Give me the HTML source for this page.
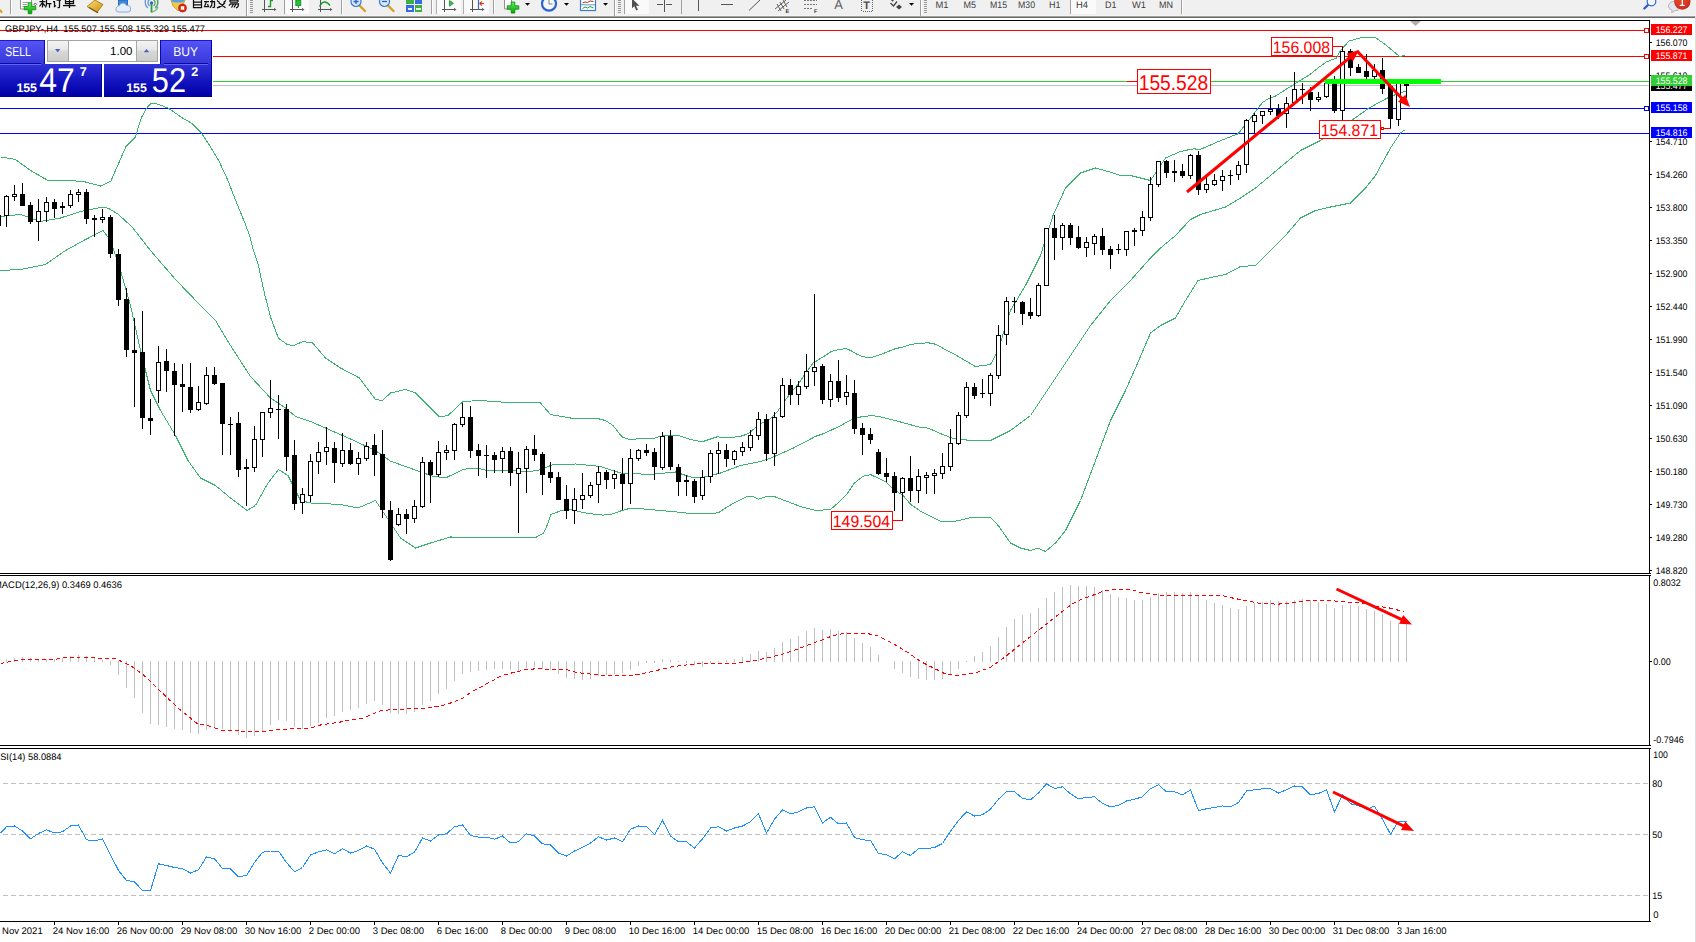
<!DOCTYPE html>
<html><head><meta charset="utf-8"><title>GBPJPY H4</title>
<style>
html,body{margin:0;padding:0;background:#fff;overflow:hidden}
body{width:1696px;height:942px;font-family:"Liberation Sans",sans-serif}
svg{position:absolute;left:0;top:0;display:block}
svg text{font-family:"Liberation Sans",sans-serif}
</style></head><body>
<svg width="1696" height="942" viewBox="0 0 1696 942" shape-rendering="crispEdges" text-rendering="geometricPrecision">
<rect x="0" y="0" width="1696" height="942" fill="#fff"/>
<rect x="0" y="30" width="1649" height="1" fill="#f00"/>
<rect x="0" y="56" width="1649" height="1" fill="#f00"/>
<rect x="0" y="81" width="1649" height="1" fill="#32cd32"/>
<rect x="0" y="85" width="1649" height="1" fill="#c0c0c0"/>
<rect x="0" y="108" width="1649" height="1" fill="#00f"/>
<rect x="0" y="133" width="1649" height="1" fill="#00f"/>
<text x="5" y="32" font-size="9.5" fill="#000" textLength="200" lengthAdjust="spacingAndGlyphs">GBPJPY-,H4&#160;&#160;155.507 155.508 155.329 155.477</text>
<polyline points="0.5,157.0 15.5,159.5 30.5,170.5 48.0,180.5 70.5,180.5 85.5,182.0 100.5,186.0 110.7,181.4 126.0,146.5 135.3,137.2 141.3,117.7 146.5,108.5 149.8,104.5 151.5,103.2 155.5,103.5 160.0,104.9 168.5,108.3 182.0,117.7 192.2,123.6 200.7,132.1 209.2,144.9 219.4,161.9 227.9,180.5 236.5,202.6 244.9,223.0 250.0,236.6 253.4,250.2 258.4,265.5 264.7,294.5 270.9,318.2 278.4,338.2 287.2,344.5 293.5,345.7 302.3,341.7 312.3,342.5 325.5,358.0 340.5,368.0 359.5,378.0 375.5,399.5 382.5,400.5 390.5,393.0 405.5,389.5 415.5,393.0 425.5,403.0 439.5,417.0 448.0,415.5 463.0,401.5 480.5,400.5 500.5,402.0 540.5,403.0 550.5,414.5 570.5,418.0 595.5,418.0 605.5,420.5 613.1,425.5 621.9,436.8 630.7,439.9 642.0,438.0 653.2,438.7 660.7,436.2 669.5,435.5 679.5,435.8 692.1,439.9 702.1,441.8 717.1,436.8 727.2,438.0 741.0,436.2 748.0,433.8 755.5,427.6 763.1,422.5 770.5,418.8 776.8,412.5 783.1,403.1 790.6,393.1 798.1,384.3 805.7,373.1 813.2,363.0 823.2,356.8 830.7,351.8 837.0,349.9 845.8,348.6 850.8,350.5 855.8,353.7 862.1,356.5 869.5,358.0 875.8,356.2 884.6,353.0 894.6,349.0 903.4,346.8 910.9,344.3 921.0,343.3 928.5,342.8 936.0,344.3 943.5,348.6 952.3,353.0 975.5,366.5 990.5,364.5 998.0,350.5 1010.5,310.5 1025.5,285.5 1040.5,255.5 1053.0,215.5 1065.5,188.0 1080.5,173.0 1095.5,168.0 1108.0,171.5 1120.5,175.5 1130.5,175.5 1150.5,180.5 1165.5,158.0 1180.5,151.5 1187.5,150.0 1194.5,148.8 1199.5,149.8 1218.5,141.5 1237.5,134.0 1239.5,132.0 1244.5,125.5 1251.5,117.0 1258.5,107.5 1262.5,102.5 1268.5,98.5 1276.0,95.8 1283.5,91.0 1293.0,85.0 1300.0,80.5 1309.5,74.8 1319.0,67.2 1326.5,61.9 1336.5,58.0 1340.5,50.5 1349.0,41.1 1361.5,37.5 1375.5,37.5 1386.5,45.5 1399.0,56.1 1405.5,55.9" fill="none" stroke="#3cb371" stroke-width="1"/>
<polyline points="0.5,216.5 20.5,214.5 40.5,221.5 60.5,218.0 80.5,211.5 103.0,207.0 108.5,208.3 118.2,214.3 132.0,226.9 150.5,250.5 175.5,279.5 200.5,305.5 215.5,320.5 230.5,345.5 250.5,376.5 270.5,398.0 285.5,408.0 295.5,416.5 310.5,421.5 325.5,428.0 350.5,439.0 375.5,450.5 390.5,461.2 403.1,465.6 420.5,471.9 433.2,476.3 445.7,477.9 462.0,470.0 467.0,468.7 479.5,468.7 485.8,470.2 514.5,470.2 520.9,471.3 533.5,471.0 540.9,469.7 545.9,467.5 553.5,464.4 576.0,464.0 582.5,464.6 600.5,466.5 620.5,473.0 650.5,474.5 675.5,472.0 690.5,477.0 700.5,478.0 720.5,473.0 740.5,465.5 760.5,461.5 770.5,458.2 793.1,448.2 815.7,436.3 823.2,433.8 838.2,426.9 850.8,420.0 860.8,416.9 870.8,415.7 878.3,416.3 890.9,419.4 918.5,426.9 928.5,428.2 941.0,433.8 952.3,438.2 970.5,440.5 990.5,440.5 1010.5,430.5 1030.5,415.5 1050.5,385.5 1070.5,355.5 1090.5,325.5 1110.5,300.5 1130.5,280.5 1150.5,258.0 1160.5,248.0 1175.5,235.5 1190.5,219.5 1200.5,214.5 1225.5,207.0 1240.5,198.0 1255.5,188.0 1270.5,175.5 1285.5,163.0 1300.5,150.5 1320.5,140.5 1340.5,128.0 1351.5,120.5 1369.0,108.0 1386.5,98.5 1399.0,93.0 1406.5,91.1" fill="none" stroke="#3cb371" stroke-width="1"/>
<polyline points="0.5,270.5 20.5,269.5 45.5,264.5 65.5,250.5 85.5,239.5 103.0,230.5 110.5,240.5 120.5,270.5 130.5,305.5 140.5,350.5 150.5,390.5 160.5,410.5 175.5,435.5 188.0,460.5 200.5,478.0 215.5,485.5 230.5,498.0 247.0,510.5 255.5,505.5 268.0,483.0 278.5,469.5 288.0,475.5 300.5,500.5 310.5,503.0 340.5,504.5 358.0,508.0 375.5,500.5 385.5,515.5 400.5,538.0 415.5,548.0 430.5,543.0 450.5,537.0 500.5,537.5 534.5,538.0 543.5,533.3 547.5,524.5 551.0,514.5 561.0,510.7 571.0,509.5 580.5,511.9 590.5,513.8 603.1,515.1 610.5,514.5 621.9,510.5 628.2,508.8 642.0,508.8 660.7,510.5 675.8,511.9 693.3,513.8 710.9,513.8 718.5,512.6 727.2,506.9 735.9,501.9 746.0,496.9 753.5,496.9 758.5,499.2 766.0,496.7 775.5,497.0 800.5,506.5 815.5,510.5 830.5,509.5 840.5,500.7 846.8,494.4 854.3,483.1 863.1,476.2 870.6,474.6 876.8,477.5 885.6,481.9 893.1,488.8 903.2,495.7 910.7,504.4 920.7,511.3 930.7,516.3 942.0,522.0 953.3,521.7 965.8,518.8 973.3,517.0 985.9,517.0 990.9,518.0 998.4,525.7 1007.2,538.2 1010.5,543.0 1020.5,548.0 1030.5,550.5 1038.0,548.0 1045.5,551.5 1055.5,543.0 1065.5,530.5 1080.5,500.5 1095.5,460.5 1110.5,420.5 1125.5,390.5 1135.5,368.0 1150.5,333.0 1160.5,325.5 1175.5,318.0 1185.5,300.5 1198.0,280.5 1215.5,276.5 1225.5,274.5 1240.5,266.5 1255.5,265.5 1270.5,250.5 1285.5,235.5 1300.5,218.0 1315.5,210.5 1330.5,207.0 1350.5,203.0 1365.5,188.0 1375.5,175.5 1390.5,148.0 1400.5,133.0 1405.5,129.5" fill="none" stroke="#3cb371" stroke-width="1"/>
<rect x="-2" y="215" width="1" height="12" fill="#000"/>
<rect x="-4" y="215" width="5" height="11" fill="#000"/>
<rect x="6" y="195" width="1" height="32" fill="#000"/>
<rect x="4" y="196" width="5" height="20" fill="#000"/>
<rect x="5" y="197" width="3" height="18" fill="#fff"/>
<rect x="14" y="185" width="1" height="16" fill="#000"/>
<rect x="12" y="194" width="5" height="3" fill="#000"/>
<rect x="13" y="195" width="3" height="1" fill="#fff"/>
<rect x="22" y="183" width="1" height="23" fill="#000"/>
<rect x="20" y="194" width="5" height="12" fill="#000"/>
<rect x="30" y="202" width="1" height="22" fill="#000"/>
<rect x="28" y="205" width="5" height="17" fill="#000"/>
<rect x="38" y="199" width="1" height="42" fill="#000"/>
<rect x="36" y="211" width="5" height="11" fill="#000"/>
<rect x="37" y="212" width="3" height="9" fill="#fff"/>
<rect x="46" y="197" width="1" height="25" fill="#000"/>
<rect x="44" y="202" width="5" height="10" fill="#000"/>
<rect x="45" y="203" width="3" height="8" fill="#fff"/>
<rect x="54" y="199" width="1" height="19" fill="#000"/>
<rect x="52" y="202" width="5" height="7" fill="#000"/>
<rect x="62" y="202" width="1" height="12" fill="#000"/>
<rect x="60" y="206" width="5" height="2" fill="#000"/>
<rect x="70" y="190" width="1" height="18" fill="#000"/>
<rect x="68" y="194" width="5" height="12" fill="#000"/>
<rect x="69" y="195" width="3" height="10" fill="#fff"/>
<rect x="78" y="189" width="1" height="13" fill="#000"/>
<rect x="76" y="192" width="5" height="3" fill="#000"/>
<rect x="77" y="193" width="3" height="1" fill="#fff"/>
<rect x="86" y="189" width="1" height="35" fill="#000"/>
<rect x="84" y="192" width="5" height="27" fill="#000"/>
<rect x="94" y="215" width="1" height="22" fill="#000"/>
<rect x="92" y="218" width="5" height="2" fill="#000"/>
<rect x="102" y="209" width="1" height="14" fill="#000"/>
<rect x="100" y="217" width="5" height="3" fill="#000"/>
<rect x="101" y="218" width="3" height="1" fill="#fff"/>
<rect x="110" y="215" width="1" height="43" fill="#000"/>
<rect x="108" y="217" width="5" height="37" fill="#000"/>
<rect x="118" y="249" width="1" height="57" fill="#000"/>
<rect x="116" y="254" width="5" height="46" fill="#000"/>
<rect x="126" y="288" width="1" height="69" fill="#000"/>
<rect x="124" y="299" width="5" height="51" fill="#000"/>
<rect x="134" y="318" width="1" height="89" fill="#000"/>
<rect x="132" y="350" width="5" height="3" fill="#000"/>
<rect x="142" y="311" width="1" height="118" fill="#000"/>
<rect x="140" y="352" width="5" height="66" fill="#000"/>
<rect x="150" y="399" width="1" height="36" fill="#000"/>
<rect x="148" y="418" width="5" height="3" fill="#000"/>
<rect x="158" y="346" width="1" height="57" fill="#000"/>
<rect x="156" y="362" width="5" height="29" fill="#000"/>
<rect x="157" y="363" width="3" height="27" fill="#fff"/>
<rect x="166" y="349" width="1" height="43" fill="#000"/>
<rect x="164" y="361" width="5" height="10" fill="#000"/>
<rect x="174" y="363" width="1" height="73" fill="#000"/>
<rect x="172" y="371" width="5" height="14" fill="#000"/>
<rect x="182" y="364" width="1" height="48" fill="#000"/>
<rect x="180" y="384" width="5" height="3" fill="#000"/>
<rect x="190" y="363" width="1" height="50" fill="#000"/>
<rect x="188" y="387" width="5" height="23" fill="#000"/>
<rect x="198" y="386" width="1" height="25" fill="#000"/>
<rect x="196" y="402" width="5" height="8" fill="#000"/>
<rect x="197" y="403" width="3" height="6" fill="#fff"/>
<rect x="206" y="367" width="1" height="38" fill="#000"/>
<rect x="204" y="375" width="5" height="29" fill="#000"/>
<rect x="205" y="376" width="3" height="27" fill="#fff"/>
<rect x="214" y="367" width="1" height="18" fill="#000"/>
<rect x="212" y="375" width="5" height="9" fill="#000"/>
<rect x="222" y="383" width="1" height="72" fill="#000"/>
<rect x="220" y="383" width="5" height="41" fill="#000"/>
<rect x="230" y="417" width="1" height="38" fill="#000"/>
<rect x="228" y="424" width="5" height="1" fill="#000"/>
<rect x="238" y="412" width="1" height="65" fill="#000"/>
<rect x="236" y="423" width="5" height="47" fill="#000"/>
<rect x="246" y="459" width="1" height="47" fill="#000"/>
<rect x="244" y="467" width="5" height="2" fill="#000"/>
<rect x="254" y="426" width="1" height="46" fill="#000"/>
<rect x="252" y="439" width="5" height="29" fill="#000"/>
<rect x="253" y="440" width="3" height="27" fill="#fff"/>
<rect x="262" y="412" width="1" height="45" fill="#000"/>
<rect x="260" y="412" width="5" height="28" fill="#000"/>
<rect x="261" y="413" width="3" height="26" fill="#fff"/>
<rect x="270" y="380" width="1" height="38" fill="#000"/>
<rect x="268" y="408" width="5" height="5" fill="#000"/>
<rect x="269" y="409" width="3" height="3" fill="#fff"/>
<rect x="278" y="395" width="1" height="44" fill="#000"/>
<rect x="276" y="409" width="5" height="1" fill="#000"/>
<rect x="286" y="404" width="1" height="67" fill="#000"/>
<rect x="284" y="409" width="5" height="48" fill="#000"/>
<rect x="294" y="440" width="1" height="70" fill="#000"/>
<rect x="292" y="455" width="5" height="49" fill="#000"/>
<rect x="302" y="488" width="1" height="26" fill="#000"/>
<rect x="300" y="494" width="5" height="9" fill="#000"/>
<rect x="301" y="495" width="3" height="7" fill="#fff"/>
<rect x="310" y="454" width="1" height="48" fill="#000"/>
<rect x="308" y="461" width="5" height="35" fill="#000"/>
<rect x="309" y="462" width="3" height="33" fill="#fff"/>
<rect x="318" y="442" width="1" height="32" fill="#000"/>
<rect x="316" y="452" width="5" height="10" fill="#000"/>
<rect x="317" y="453" width="3" height="8" fill="#fff"/>
<rect x="326" y="427" width="1" height="38" fill="#000"/>
<rect x="324" y="447" width="5" height="5" fill="#000"/>
<rect x="325" y="448" width="3" height="3" fill="#fff"/>
<rect x="334" y="442" width="1" height="41" fill="#000"/>
<rect x="332" y="448" width="5" height="15" fill="#000"/>
<rect x="342" y="433" width="1" height="34" fill="#000"/>
<rect x="340" y="450" width="5" height="14" fill="#000"/>
<rect x="341" y="451" width="3" height="12" fill="#fff"/>
<rect x="350" y="443" width="1" height="22" fill="#000"/>
<rect x="348" y="450" width="5" height="14" fill="#000"/>
<rect x="358" y="452" width="1" height="23" fill="#000"/>
<rect x="356" y="458" width="5" height="6" fill="#000"/>
<rect x="357" y="459" width="3" height="4" fill="#fff"/>
<rect x="366" y="442" width="1" height="19" fill="#000"/>
<rect x="364" y="446" width="5" height="13" fill="#000"/>
<rect x="365" y="447" width="3" height="11" fill="#fff"/>
<rect x="374" y="434" width="1" height="42" fill="#000"/>
<rect x="372" y="445" width="5" height="10" fill="#000"/>
<rect x="382" y="430" width="1" height="88" fill="#000"/>
<rect x="380" y="454" width="5" height="56" fill="#000"/>
<rect x="390" y="501" width="1" height="60" fill="#000"/>
<rect x="388" y="510" width="5" height="50" fill="#000"/>
<rect x="398" y="508" width="1" height="18" fill="#000"/>
<rect x="396" y="514" width="5" height="11" fill="#000"/>
<rect x="397" y="515" width="3" height="9" fill="#fff"/>
<rect x="406" y="509" width="1" height="25" fill="#000"/>
<rect x="404" y="514" width="5" height="5" fill="#000"/>
<rect x="414" y="500" width="1" height="23" fill="#000"/>
<rect x="412" y="506" width="5" height="13" fill="#000"/>
<rect x="413" y="507" width="3" height="11" fill="#fff"/>
<rect x="422" y="457" width="1" height="51" fill="#000"/>
<rect x="420" y="462" width="5" height="45" fill="#000"/>
<rect x="421" y="463" width="3" height="43" fill="#fff"/>
<rect x="430" y="460" width="1" height="43" fill="#000"/>
<rect x="428" y="462" width="5" height="13" fill="#000"/>
<rect x="438" y="441" width="1" height="36" fill="#000"/>
<rect x="436" y="452" width="5" height="23" fill="#000"/>
<rect x="437" y="453" width="3" height="21" fill="#fff"/>
<rect x="446" y="445" width="1" height="15" fill="#000"/>
<rect x="444" y="450" width="5" height="3" fill="#000"/>
<rect x="445" y="451" width="3" height="1" fill="#fff"/>
<rect x="454" y="423" width="1" height="37" fill="#000"/>
<rect x="452" y="424" width="5" height="27" fill="#000"/>
<rect x="453" y="425" width="3" height="25" fill="#fff"/>
<rect x="462" y="403" width="1" height="24" fill="#000"/>
<rect x="460" y="417" width="5" height="8" fill="#000"/>
<rect x="461" y="418" width="3" height="6" fill="#fff"/>
<rect x="470" y="406" width="1" height="52" fill="#000"/>
<rect x="468" y="417" width="5" height="34" fill="#000"/>
<rect x="478" y="444" width="1" height="32" fill="#000"/>
<rect x="476" y="450" width="5" height="6" fill="#000"/>
<rect x="486" y="445" width="1" height="33" fill="#000"/>
<rect x="484" y="455" width="5" height="1" fill="#000"/>
<rect x="494" y="452" width="1" height="21" fill="#000"/>
<rect x="492" y="455" width="5" height="5" fill="#000"/>
<rect x="502" y="447" width="1" height="26" fill="#000"/>
<rect x="500" y="451" width="5" height="8" fill="#000"/>
<rect x="501" y="452" width="3" height="6" fill="#fff"/>
<rect x="510" y="447" width="1" height="39" fill="#000"/>
<rect x="508" y="451" width="5" height="22" fill="#000"/>
<rect x="518" y="452" width="1" height="81" fill="#000"/>
<rect x="516" y="468" width="5" height="6" fill="#000"/>
<rect x="517" y="469" width="3" height="4" fill="#fff"/>
<rect x="526" y="446" width="1" height="47" fill="#000"/>
<rect x="524" y="449" width="5" height="20" fill="#000"/>
<rect x="525" y="450" width="3" height="18" fill="#fff"/>
<rect x="534" y="435" width="1" height="26" fill="#000"/>
<rect x="532" y="449" width="5" height="6" fill="#000"/>
<rect x="542" y="452" width="1" height="43" fill="#000"/>
<rect x="540" y="454" width="5" height="21" fill="#000"/>
<rect x="550" y="462" width="1" height="21" fill="#000"/>
<rect x="548" y="472" width="5" height="6" fill="#000"/>
<rect x="558" y="472" width="1" height="28" fill="#000"/>
<rect x="556" y="477" width="5" height="23" fill="#000"/>
<rect x="566" y="485" width="1" height="34" fill="#000"/>
<rect x="564" y="499" width="5" height="12" fill="#000"/>
<rect x="574" y="488" width="1" height="36" fill="#000"/>
<rect x="572" y="499" width="5" height="12" fill="#000"/>
<rect x="573" y="500" width="3" height="10" fill="#fff"/>
<rect x="582" y="473" width="1" height="36" fill="#000"/>
<rect x="580" y="495" width="5" height="5" fill="#000"/>
<rect x="581" y="496" width="3" height="3" fill="#fff"/>
<rect x="590" y="482" width="1" height="16" fill="#000"/>
<rect x="588" y="485" width="5" height="11" fill="#000"/>
<rect x="589" y="486" width="3" height="9" fill="#fff"/>
<rect x="598" y="466" width="1" height="37" fill="#000"/>
<rect x="596" y="472" width="5" height="13" fill="#000"/>
<rect x="597" y="473" width="3" height="11" fill="#fff"/>
<rect x="606" y="470" width="1" height="19" fill="#000"/>
<rect x="604" y="472" width="5" height="8" fill="#000"/>
<rect x="614" y="470" width="1" height="19" fill="#000"/>
<rect x="612" y="474" width="5" height="5" fill="#000"/>
<rect x="613" y="475" width="3" height="3" fill="#fff"/>
<rect x="622" y="458" width="1" height="52" fill="#000"/>
<rect x="620" y="474" width="5" height="10" fill="#000"/>
<rect x="630" y="449" width="1" height="55" fill="#000"/>
<rect x="628" y="458" width="5" height="26" fill="#000"/>
<rect x="629" y="459" width="3" height="24" fill="#fff"/>
<rect x="638" y="449" width="1" height="12" fill="#000"/>
<rect x="636" y="450" width="5" height="9" fill="#000"/>
<rect x="637" y="451" width="3" height="7" fill="#fff"/>
<rect x="646" y="444" width="1" height="12" fill="#000"/>
<rect x="644" y="450" width="5" height="3" fill="#000"/>
<rect x="654" y="448" width="1" height="32" fill="#000"/>
<rect x="652" y="452" width="5" height="15" fill="#000"/>
<rect x="662" y="432" width="1" height="38" fill="#000"/>
<rect x="660" y="436" width="5" height="32" fill="#000"/>
<rect x="661" y="437" width="3" height="30" fill="#fff"/>
<rect x="670" y="430" width="1" height="40" fill="#000"/>
<rect x="668" y="436" width="5" height="31" fill="#000"/>
<rect x="678" y="464" width="1" height="32" fill="#000"/>
<rect x="676" y="467" width="5" height="15" fill="#000"/>
<rect x="686" y="475" width="1" height="21" fill="#000"/>
<rect x="684" y="480" width="5" height="2" fill="#000"/>
<rect x="694" y="479" width="1" height="24" fill="#000"/>
<rect x="692" y="481" width="5" height="16" fill="#000"/>
<rect x="702" y="470" width="1" height="30" fill="#000"/>
<rect x="700" y="477" width="5" height="19" fill="#000"/>
<rect x="701" y="478" width="3" height="17" fill="#fff"/>
<rect x="710" y="450" width="1" height="33" fill="#000"/>
<rect x="708" y="453" width="5" height="24" fill="#000"/>
<rect x="709" y="454" width="3" height="22" fill="#fff"/>
<rect x="718" y="442" width="1" height="32" fill="#000"/>
<rect x="716" y="450" width="5" height="4" fill="#000"/>
<rect x="717" y="451" width="3" height="2" fill="#fff"/>
<rect x="726" y="444" width="1" height="23" fill="#000"/>
<rect x="724" y="450" width="5" height="9" fill="#000"/>
<rect x="734" y="450" width="1" height="15" fill="#000"/>
<rect x="732" y="451" width="5" height="9" fill="#000"/>
<rect x="733" y="452" width="3" height="7" fill="#fff"/>
<rect x="742" y="442" width="1" height="14" fill="#000"/>
<rect x="740" y="447" width="5" height="5" fill="#000"/>
<rect x="741" y="448" width="3" height="3" fill="#fff"/>
<rect x="750" y="430" width="1" height="21" fill="#000"/>
<rect x="748" y="435" width="5" height="13" fill="#000"/>
<rect x="749" y="436" width="3" height="11" fill="#fff"/>
<rect x="758" y="412" width="1" height="28" fill="#000"/>
<rect x="756" y="419" width="5" height="17" fill="#000"/>
<rect x="757" y="420" width="3" height="15" fill="#fff"/>
<rect x="766" y="414" width="1" height="47" fill="#000"/>
<rect x="764" y="419" width="5" height="35" fill="#000"/>
<rect x="774" y="412" width="1" height="54" fill="#000"/>
<rect x="772" y="417" width="5" height="37" fill="#000"/>
<rect x="773" y="418" width="3" height="35" fill="#fff"/>
<rect x="782" y="378" width="1" height="40" fill="#000"/>
<rect x="780" y="385" width="5" height="32" fill="#000"/>
<rect x="781" y="386" width="3" height="30" fill="#fff"/>
<rect x="790" y="379" width="1" height="26" fill="#000"/>
<rect x="788" y="385" width="5" height="10" fill="#000"/>
<rect x="798" y="381" width="1" height="24" fill="#000"/>
<rect x="796" y="386" width="5" height="9" fill="#000"/>
<rect x="797" y="387" width="3" height="7" fill="#fff"/>
<rect x="806" y="354" width="1" height="35" fill="#000"/>
<rect x="804" y="371" width="5" height="16" fill="#000"/>
<rect x="805" y="372" width="3" height="14" fill="#fff"/>
<rect x="814" y="294" width="1" height="92" fill="#000"/>
<rect x="812" y="367" width="5" height="5" fill="#000"/>
<rect x="813" y="368" width="3" height="3" fill="#fff"/>
<rect x="822" y="364" width="1" height="40" fill="#000"/>
<rect x="820" y="366" width="5" height="34" fill="#000"/>
<rect x="830" y="374" width="1" height="33" fill="#000"/>
<rect x="828" y="381" width="5" height="19" fill="#000"/>
<rect x="829" y="382" width="3" height="17" fill="#fff"/>
<rect x="838" y="360" width="1" height="42" fill="#000"/>
<rect x="836" y="381" width="5" height="17" fill="#000"/>
<rect x="846" y="375" width="1" height="30" fill="#000"/>
<rect x="844" y="392" width="5" height="5" fill="#000"/>
<rect x="845" y="393" width="3" height="3" fill="#fff"/>
<rect x="854" y="380" width="1" height="54" fill="#000"/>
<rect x="852" y="393" width="5" height="36" fill="#000"/>
<rect x="862" y="423" width="1" height="32" fill="#000"/>
<rect x="860" y="428" width="5" height="7" fill="#000"/>
<rect x="870" y="428" width="1" height="16" fill="#000"/>
<rect x="868" y="434" width="5" height="6" fill="#000"/>
<rect x="878" y="449" width="1" height="26" fill="#000"/>
<rect x="876" y="452" width="5" height="22" fill="#000"/>
<rect x="886" y="458" width="1" height="24" fill="#000"/>
<rect x="884" y="473" width="5" height="4" fill="#000"/>
<rect x="894" y="472" width="1" height="39" fill="#000"/>
<rect x="892" y="476" width="5" height="17" fill="#000"/>
<rect x="902" y="477" width="1" height="44" fill="#000"/>
<rect x="900" y="478" width="5" height="15" fill="#000"/>
<rect x="901" y="479" width="3" height="13" fill="#fff"/>
<rect x="910" y="456" width="1" height="46" fill="#000"/>
<rect x="908" y="478" width="5" height="13" fill="#000"/>
<rect x="918" y="469" width="1" height="34" fill="#000"/>
<rect x="916" y="476" width="5" height="15" fill="#000"/>
<rect x="917" y="477" width="3" height="13" fill="#fff"/>
<rect x="926" y="472" width="1" height="22" fill="#000"/>
<rect x="924" y="475" width="5" height="3" fill="#000"/>
<rect x="925" y="476" width="3" height="1" fill="#fff"/>
<rect x="934" y="469" width="1" height="25" fill="#000"/>
<rect x="932" y="473" width="5" height="3" fill="#000"/>
<rect x="933" y="474" width="3" height="1" fill="#fff"/>
<rect x="942" y="453" width="1" height="26" fill="#000"/>
<rect x="940" y="466" width="5" height="8" fill="#000"/>
<rect x="941" y="467" width="3" height="6" fill="#fff"/>
<rect x="950" y="429" width="1" height="42" fill="#000"/>
<rect x="948" y="443" width="5" height="24" fill="#000"/>
<rect x="949" y="444" width="3" height="22" fill="#fff"/>
<rect x="958" y="412" width="1" height="33" fill="#000"/>
<rect x="956" y="415" width="5" height="29" fill="#000"/>
<rect x="957" y="416" width="3" height="27" fill="#fff"/>
<rect x="966" y="382" width="1" height="36" fill="#000"/>
<rect x="964" y="387" width="5" height="29" fill="#000"/>
<rect x="965" y="388" width="3" height="27" fill="#fff"/>
<rect x="974" y="383" width="1" height="16" fill="#000"/>
<rect x="972" y="387" width="5" height="9" fill="#000"/>
<rect x="982" y="379" width="1" height="19" fill="#000"/>
<rect x="980" y="393" width="5" height="1" fill="#000"/>
<rect x="990" y="373" width="1" height="33" fill="#000"/>
<rect x="988" y="375" width="5" height="19" fill="#000"/>
<rect x="989" y="376" width="3" height="17" fill="#fff"/>
<rect x="998" y="325" width="1" height="54" fill="#000"/>
<rect x="996" y="335" width="5" height="41" fill="#000"/>
<rect x="997" y="336" width="3" height="39" fill="#fff"/>
<rect x="1006" y="297" width="1" height="48" fill="#000"/>
<rect x="1004" y="301" width="5" height="34" fill="#000"/>
<rect x="1005" y="302" width="3" height="32" fill="#fff"/>
<rect x="1014" y="297" width="1" height="16" fill="#000"/>
<rect x="1012" y="301" width="5" height="1" fill="#000"/>
<rect x="1022" y="301" width="1" height="24" fill="#000"/>
<rect x="1020" y="302" width="5" height="12" fill="#000"/>
<rect x="1030" y="298" width="1" height="21" fill="#000"/>
<rect x="1028" y="312" width="5" height="4" fill="#000"/>
<rect x="1038" y="283" width="1" height="34" fill="#000"/>
<rect x="1036" y="285" width="5" height="31" fill="#000"/>
<rect x="1037" y="286" width="3" height="29" fill="#fff"/>
<rect x="1046" y="228" width="1" height="58" fill="#000"/>
<rect x="1044" y="228" width="5" height="58" fill="#000"/>
<rect x="1045" y="229" width="3" height="56" fill="#fff"/>
<rect x="1054" y="215" width="1" height="45" fill="#000"/>
<rect x="1052" y="228" width="5" height="10" fill="#000"/>
<rect x="1062" y="223" width="1" height="27" fill="#000"/>
<rect x="1060" y="225" width="5" height="13" fill="#000"/>
<rect x="1061" y="226" width="3" height="11" fill="#fff"/>
<rect x="1070" y="223" width="1" height="22" fill="#000"/>
<rect x="1068" y="225" width="5" height="13" fill="#000"/>
<rect x="1078" y="226" width="1" height="23" fill="#000"/>
<rect x="1076" y="237" width="5" height="11" fill="#000"/>
<rect x="1086" y="237" width="1" height="20" fill="#000"/>
<rect x="1084" y="242" width="5" height="6" fill="#000"/>
<rect x="1085" y="243" width="3" height="4" fill="#fff"/>
<rect x="1094" y="234" width="1" height="21" fill="#000"/>
<rect x="1092" y="236" width="5" height="8" fill="#000"/>
<rect x="1093" y="237" width="3" height="6" fill="#fff"/>
<rect x="1102" y="228" width="1" height="27" fill="#000"/>
<rect x="1100" y="236" width="5" height="14" fill="#000"/>
<rect x="1110" y="246" width="1" height="23" fill="#000"/>
<rect x="1108" y="249" width="5" height="6" fill="#000"/>
<rect x="1118" y="244" width="1" height="10" fill="#000"/>
<rect x="1116" y="249" width="5" height="1" fill="#000"/>
<rect x="1126" y="231" width="1" height="25" fill="#000"/>
<rect x="1124" y="231" width="5" height="19" fill="#000"/>
<rect x="1125" y="232" width="3" height="17" fill="#fff"/>
<rect x="1134" y="228" width="1" height="18" fill="#000"/>
<rect x="1132" y="230" width="5" height="2" fill="#000"/>
<rect x="1142" y="211" width="1" height="25" fill="#000"/>
<rect x="1140" y="217" width="5" height="14" fill="#000"/>
<rect x="1141" y="218" width="3" height="12" fill="#fff"/>
<rect x="1150" y="177" width="1" height="44" fill="#000"/>
<rect x="1148" y="184" width="5" height="34" fill="#000"/>
<rect x="1149" y="185" width="3" height="32" fill="#fff"/>
<rect x="1158" y="161" width="1" height="26" fill="#000"/>
<rect x="1156" y="161" width="5" height="24" fill="#000"/>
<rect x="1157" y="162" width="3" height="22" fill="#fff"/>
<rect x="1166" y="160" width="1" height="18" fill="#000"/>
<rect x="1164" y="161" width="5" height="12" fill="#000"/>
<rect x="1174" y="160" width="1" height="22" fill="#000"/>
<rect x="1172" y="171" width="5" height="2" fill="#000"/>
<rect x="1182" y="164" width="1" height="14" fill="#000"/>
<rect x="1180" y="171" width="5" height="5" fill="#000"/>
<rect x="1190" y="154" width="1" height="25" fill="#000"/>
<rect x="1188" y="155" width="5" height="21" fill="#000"/>
<rect x="1189" y="156" width="3" height="19" fill="#fff"/>
<rect x="1198" y="151" width="1" height="44" fill="#000"/>
<rect x="1196" y="155" width="5" height="35" fill="#000"/>
<rect x="1206" y="177" width="1" height="16" fill="#000"/>
<rect x="1204" y="184" width="5" height="6" fill="#000"/>
<rect x="1205" y="185" width="3" height="4" fill="#fff"/>
<rect x="1214" y="174" width="1" height="12" fill="#000"/>
<rect x="1212" y="180" width="5" height="5" fill="#000"/>
<rect x="1213" y="181" width="3" height="3" fill="#fff"/>
<rect x="1222" y="170" width="1" height="21" fill="#000"/>
<rect x="1220" y="176" width="5" height="5" fill="#000"/>
<rect x="1221" y="177" width="3" height="3" fill="#fff"/>
<rect x="1230" y="170" width="1" height="15" fill="#000"/>
<rect x="1228" y="175" width="5" height="1" fill="#000"/>
<rect x="1238" y="161" width="1" height="19" fill="#000"/>
<rect x="1236" y="165" width="5" height="10" fill="#000"/>
<rect x="1237" y="166" width="3" height="8" fill="#fff"/>
<rect x="1246" y="119" width="1" height="54" fill="#000"/>
<rect x="1244" y="120" width="5" height="45" fill="#000"/>
<rect x="1245" y="121" width="3" height="43" fill="#fff"/>
<rect x="1254" y="113" width="1" height="20" fill="#000"/>
<rect x="1252" y="115" width="5" height="7" fill="#000"/>
<rect x="1253" y="116" width="3" height="5" fill="#fff"/>
<rect x="1262" y="111" width="1" height="13" fill="#000"/>
<rect x="1260" y="111" width="5" height="5" fill="#000"/>
<rect x="1261" y="112" width="3" height="3" fill="#fff"/>
<rect x="1270" y="95" width="1" height="20" fill="#000"/>
<rect x="1268" y="109" width="5" height="3" fill="#000"/>
<rect x="1269" y="110" width="3" height="1" fill="#fff"/>
<rect x="1278" y="104" width="1" height="15" fill="#000"/>
<rect x="1276" y="109" width="5" height="7" fill="#000"/>
<rect x="1286" y="97" width="1" height="31" fill="#000"/>
<rect x="1284" y="103" width="5" height="11" fill="#000"/>
<rect x="1285" y="104" width="3" height="9" fill="#fff"/>
<rect x="1294" y="72" width="1" height="32" fill="#000"/>
<rect x="1292" y="89" width="5" height="14" fill="#000"/>
<rect x="1293" y="90" width="3" height="12" fill="#fff"/>
<rect x="1302" y="83" width="1" height="21" fill="#000"/>
<rect x="1300" y="89" width="5" height="1" fill="#000"/>
<rect x="1310" y="87" width="1" height="24" fill="#000"/>
<rect x="1308" y="92" width="5" height="8" fill="#000"/>
<rect x="1318" y="92" width="1" height="10" fill="#000"/>
<rect x="1316" y="97" width="5" height="3" fill="#000"/>
<rect x="1317" y="98" width="3" height="1" fill="#fff"/>
<rect x="1326" y="80" width="1" height="18" fill="#000"/>
<rect x="1324" y="83" width="5" height="14" fill="#000"/>
<rect x="1325" y="84" width="3" height="12" fill="#fff"/>
<rect x="1334" y="76" width="1" height="37" fill="#000"/>
<rect x="1332" y="83" width="5" height="28" fill="#000"/>
<rect x="1342" y="47" width="1" height="75" fill="#000"/>
<rect x="1340" y="51" width="5" height="60" fill="#000"/>
<rect x="1341" y="52" width="3" height="58" fill="#fff"/>
<rect x="1350" y="49" width="1" height="27" fill="#000"/>
<rect x="1348" y="51" width="5" height="17" fill="#000"/>
<rect x="1358" y="64" width="1" height="9" fill="#000"/>
<rect x="1356" y="67" width="5" height="6" fill="#000"/>
<rect x="1366" y="54" width="1" height="25" fill="#000"/>
<rect x="1364" y="71" width="5" height="6" fill="#000"/>
<rect x="1374" y="64" width="1" height="15" fill="#000"/>
<rect x="1372" y="70" width="5" height="7" fill="#000"/>
<rect x="1373" y="71" width="3" height="5" fill="#fff"/>
<rect x="1382" y="58" width="1" height="36" fill="#000"/>
<rect x="1380" y="70" width="5" height="19" fill="#000"/>
<rect x="1390" y="82" width="1" height="47" fill="#000"/>
<rect x="1388" y="86" width="5" height="33" fill="#000"/>
<rect x="1398" y="82" width="1" height="44" fill="#000"/>
<rect x="1396" y="83" width="5" height="37" fill="#000"/>
<rect x="1397" y="84" width="3" height="35" fill="#fff"/>
<rect x="1406" y="83" width="1" height="15" fill="#000"/>
<rect x="1404" y="83" width="5" height="3" fill="#000"/>
<rect x="1127" y="81" width="10" height="1" fill="#f00"/>
<rect x="1137" y="69" width="74" height="25" fill="#f00"/>
<rect x="1138" y="70" width="72" height="23" fill="#fff"/>
<text x="1138.7" y="89.8" font-size="21.3" fill="#f00" textLength="69.5" lengthAdjust="spacingAndGlyphs">155.528</text>
<rect x="1325" y="79" width="116" height="5" fill="#00ff00"/>
<rect x="1271" y="37" width="62" height="19" fill="#f00"/>
<rect x="1272" y="38" width="60" height="17" fill="#fff"/>
<text x="1272.8" y="53.1" font-size="16.6" fill="#f00" textLength="57.2" lengthAdjust="spacingAndGlyphs">156.008</text>
<rect x="1333" y="46" width="10" height="1" fill="#f00"/>
<rect x="1319" y="120" width="62" height="19" fill="#f00"/>
<rect x="1320" y="121" width="60" height="17" fill="#fff"/>
<text x="1320.8" y="136.1" font-size="16.6" fill="#f00" textLength="57.2" lengthAdjust="spacingAndGlyphs">154.871</text>
<rect x="1381" y="127" width="3" height="3" fill="#f00"/>
<rect x="1382" y="128" width="1" height="1" fill="#fff"/>
<rect x="1384" y="128" width="7" height="1" fill="#f00"/>
<rect x="831" y="511" width="62" height="19" fill="#f00"/>
<rect x="832" y="512" width="60" height="17" fill="#fff"/>
<text x="832.8" y="527.1" font-size="16.6" fill="#f00" textLength="57.2" lengthAdjust="spacingAndGlyphs">149.504</text>
<rect x="893" y="520" width="10" height="1" fill="#f00"/>
<polygon points="1410,21 1421,21 1415.5,26" fill="#b0b0b0" shape-rendering="geometricPrecision"/>
<rect x="1650" y="42" width="2" height="1" fill="#000"/>
<text x="1655.7" y="46" font-size="9.5" fill="#000" textLength="31.8" lengthAdjust="spacingAndGlyphs">156.070</text>
<rect x="1650" y="75" width="2" height="1" fill="#000"/>
<text x="1655.7" y="79" font-size="9.5" fill="#000" textLength="31.8" lengthAdjust="spacingAndGlyphs">155.610</text>
<rect x="1650" y="141" width="2" height="1" fill="#000"/>
<text x="1655.7" y="145" font-size="9.5" fill="#000" textLength="31.8" lengthAdjust="spacingAndGlyphs">154.710</text>
<rect x="1650" y="174" width="2" height="1" fill="#000"/>
<text x="1655.7" y="178" font-size="9.5" fill="#000" textLength="31.8" lengthAdjust="spacingAndGlyphs">154.260</text>
<rect x="1650" y="207" width="2" height="1" fill="#000"/>
<text x="1655.7" y="211" font-size="9.5" fill="#000" textLength="31.8" lengthAdjust="spacingAndGlyphs">153.800</text>
<rect x="1650" y="240" width="2" height="1" fill="#000"/>
<text x="1655.7" y="244" font-size="9.5" fill="#000" textLength="31.8" lengthAdjust="spacingAndGlyphs">153.350</text>
<rect x="1650" y="273" width="2" height="1" fill="#000"/>
<text x="1655.7" y="277" font-size="9.5" fill="#000" textLength="31.8" lengthAdjust="spacingAndGlyphs">152.900</text>
<rect x="1650" y="306" width="2" height="1" fill="#000"/>
<text x="1655.7" y="310" font-size="9.5" fill="#000" textLength="31.8" lengthAdjust="spacingAndGlyphs">152.440</text>
<rect x="1650" y="339" width="2" height="1" fill="#000"/>
<text x="1655.7" y="343" font-size="9.5" fill="#000" textLength="31.8" lengthAdjust="spacingAndGlyphs">151.990</text>
<rect x="1650" y="372" width="2" height="1" fill="#000"/>
<text x="1655.7" y="376" font-size="9.5" fill="#000" textLength="31.8" lengthAdjust="spacingAndGlyphs">151.540</text>
<rect x="1650" y="405" width="2" height="1" fill="#000"/>
<text x="1655.7" y="409" font-size="9.5" fill="#000" textLength="31.8" lengthAdjust="spacingAndGlyphs">151.090</text>
<rect x="1650" y="438" width="2" height="1" fill="#000"/>
<text x="1655.7" y="442" font-size="9.5" fill="#000" textLength="31.8" lengthAdjust="spacingAndGlyphs">150.630</text>
<rect x="1650" y="471" width="2" height="1" fill="#000"/>
<text x="1655.7" y="475" font-size="9.5" fill="#000" textLength="31.8" lengthAdjust="spacingAndGlyphs">150.180</text>
<rect x="1650" y="504" width="2" height="1" fill="#000"/>
<text x="1655.7" y="508" font-size="9.5" fill="#000" textLength="31.8" lengthAdjust="spacingAndGlyphs">149.730</text>
<rect x="1650" y="537" width="2" height="1" fill="#000"/>
<text x="1655.7" y="541" font-size="9.5" fill="#000" textLength="31.8" lengthAdjust="spacingAndGlyphs">149.280</text>
<rect x="1650" y="570" width="2" height="1" fill="#000"/>
<text x="1655.7" y="574" font-size="9.5" fill="#000" textLength="31.8" lengthAdjust="spacingAndGlyphs">148.820</text>
<rect x="1651" y="24" width="41" height="11" fill="#f00"/>
<text x="1655.7" y="33" font-size="9.5" fill="#fff" textLength="31.8" lengthAdjust="spacingAndGlyphs">156.227</text>
<rect x="1644" y="28" width="5" height="5" fill="#f00"/>
<rect x="1645" y="29" width="3" height="3" fill="#fff"/>
<rect x="1651" y="50" width="41" height="11" fill="#f00"/>
<text x="1655.7" y="59" font-size="9.5" fill="#fff" textLength="31.8" lengthAdjust="spacingAndGlyphs">155.871</text>
<rect x="1644" y="54" width="5" height="5" fill="#f00"/>
<rect x="1645" y="55" width="3" height="3" fill="#fff"/>
<rect x="1651" y="80" width="41" height="11" fill="#000"/>
<text x="1655.7" y="89" font-size="9.5" fill="#fff" textLength="31.8" lengthAdjust="spacingAndGlyphs">155.477</text>
<rect x="1651" y="75" width="41" height="11" fill="#32cd32"/>
<text x="1655.7" y="84" font-size="9.5" fill="#fff" textLength="31.8" lengthAdjust="spacingAndGlyphs">155.528</text>
<rect x="1651" y="102" width="41" height="11" fill="#00f"/>
<text x="1655.7" y="111" font-size="9.5" fill="#fff" textLength="31.8" lengthAdjust="spacingAndGlyphs">155.158</text>
<rect x="1644" y="106" width="5" height="5" fill="#00f"/>
<rect x="1645" y="107" width="3" height="3" fill="#fff"/>
<rect x="1651" y="127" width="41" height="11" fill="#00f"/>
<text x="1655.7" y="136" font-size="9.5" fill="#fff" textLength="31.8" lengthAdjust="spacingAndGlyphs">154.816</text>
<rect x="6" y="659" width="1" height="3" fill="#c0c0c0"/>
<rect x="14" y="658" width="1" height="4" fill="#c0c0c0"/>
<rect x="22" y="657" width="1" height="5" fill="#c0c0c0"/>
<rect x="30" y="658" width="1" height="4" fill="#c0c0c0"/>
<rect x="38" y="659" width="1" height="3" fill="#c0c0c0"/>
<rect x="46" y="659" width="1" height="3" fill="#c0c0c0"/>
<rect x="54" y="659" width="1" height="3" fill="#c0c0c0"/>
<rect x="62" y="658" width="1" height="4" fill="#c0c0c0"/>
<rect x="70" y="656" width="1" height="6" fill="#c0c0c0"/>
<rect x="78" y="655" width="1" height="7" fill="#c0c0c0"/>
<rect x="86" y="656" width="1" height="6" fill="#c0c0c0"/>
<rect x="94" y="658" width="1" height="4" fill="#c0c0c0"/>
<rect x="102" y="660" width="1" height="2" fill="#c0c0c0"/>
<rect x="110" y="661" width="1" height="4" fill="#c0c0c0"/>
<rect x="118" y="661" width="1" height="14" fill="#c0c0c0"/>
<rect x="126" y="661" width="1" height="27" fill="#c0c0c0"/>
<rect x="134" y="661" width="1" height="37" fill="#c0c0c0"/>
<rect x="142" y="661" width="1" height="52" fill="#c0c0c0"/>
<rect x="150" y="661" width="1" height="63" fill="#c0c0c0"/>
<rect x="158" y="661" width="1" height="64" fill="#c0c0c0"/>
<rect x="166" y="661" width="1" height="66" fill="#c0c0c0"/>
<rect x="174" y="661" width="1" height="68" fill="#c0c0c0"/>
<rect x="182" y="661" width="1" height="69" fill="#c0c0c0"/>
<rect x="190" y="661" width="1" height="72" fill="#c0c0c0"/>
<rect x="198" y="661" width="1" height="73" fill="#c0c0c0"/>
<rect x="206" y="661" width="1" height="69" fill="#c0c0c0"/>
<rect x="214" y="661" width="1" height="66" fill="#c0c0c0"/>
<rect x="222" y="661" width="1" height="68" fill="#c0c0c0"/>
<rect x="230" y="661" width="1" height="70" fill="#c0c0c0"/>
<rect x="238" y="661" width="1" height="74" fill="#c0c0c0"/>
<rect x="246" y="661" width="1" height="77" fill="#c0c0c0"/>
<rect x="254" y="661" width="1" height="75" fill="#c0c0c0"/>
<rect x="262" y="661" width="1" height="70" fill="#c0c0c0"/>
<rect x="270" y="661" width="1" height="64" fill="#c0c0c0"/>
<rect x="278" y="661" width="1" height="59" fill="#c0c0c0"/>
<rect x="286" y="661" width="1" height="60" fill="#c0c0c0"/>
<rect x="294" y="661" width="1" height="66" fill="#c0c0c0"/>
<rect x="302" y="661" width="1" height="68" fill="#c0c0c0"/>
<rect x="310" y="661" width="1" height="65" fill="#c0c0c0"/>
<rect x="318" y="661" width="1" height="62" fill="#c0c0c0"/>
<rect x="326" y="661" width="1" height="57" fill="#c0c0c0"/>
<rect x="334" y="661" width="1" height="55" fill="#c0c0c0"/>
<rect x="342" y="661" width="1" height="51" fill="#c0c0c0"/>
<rect x="350" y="661" width="1" height="49" fill="#c0c0c0"/>
<rect x="358" y="661" width="1" height="47" fill="#c0c0c0"/>
<rect x="366" y="661" width="1" height="43" fill="#c0c0c0"/>
<rect x="374" y="661" width="1" height="40" fill="#c0c0c0"/>
<rect x="382" y="661" width="1" height="44" fill="#c0c0c0"/>
<rect x="390" y="661" width="1" height="52" fill="#c0c0c0"/>
<rect x="398" y="661" width="1" height="53" fill="#c0c0c0"/>
<rect x="406" y="661" width="1" height="53" fill="#c0c0c0"/>
<rect x="414" y="661" width="1" height="51" fill="#c0c0c0"/>
<rect x="422" y="661" width="1" height="44" fill="#c0c0c0"/>
<rect x="430" y="661" width="1" height="40" fill="#c0c0c0"/>
<rect x="438" y="661" width="1" height="33" fill="#c0c0c0"/>
<rect x="446" y="661" width="1" height="28" fill="#c0c0c0"/>
<rect x="454" y="661" width="1" height="20" fill="#c0c0c0"/>
<rect x="462" y="661" width="1" height="13" fill="#c0c0c0"/>
<rect x="470" y="661" width="1" height="11" fill="#c0c0c0"/>
<rect x="478" y="661" width="1" height="10" fill="#c0c0c0"/>
<rect x="486" y="661" width="1" height="9" fill="#c0c0c0"/>
<rect x="494" y="661" width="1" height="8" fill="#c0c0c0"/>
<rect x="502" y="661" width="1" height="8" fill="#c0c0c0"/>
<rect x="510" y="661" width="1" height="9" fill="#c0c0c0"/>
<rect x="518" y="661" width="1" height="10" fill="#c0c0c0"/>
<rect x="526" y="661" width="1" height="7" fill="#c0c0c0"/>
<rect x="534" y="661" width="1" height="6" fill="#c0c0c0"/>
<rect x="542" y="661" width="1" height="8" fill="#c0c0c0"/>
<rect x="550" y="661" width="1" height="9" fill="#c0c0c0"/>
<rect x="558" y="661" width="1" height="13" fill="#c0c0c0"/>
<rect x="566" y="661" width="1" height="17" fill="#c0c0c0"/>
<rect x="574" y="661" width="1" height="18" fill="#c0c0c0"/>
<rect x="582" y="661" width="1" height="19" fill="#c0c0c0"/>
<rect x="590" y="661" width="1" height="18" fill="#c0c0c0"/>
<rect x="598" y="661" width="1" height="15" fill="#c0c0c0"/>
<rect x="606" y="661" width="1" height="14" fill="#c0c0c0"/>
<rect x="614" y="661" width="1" height="13" fill="#c0c0c0"/>
<rect x="622" y="661" width="1" height="12" fill="#c0c0c0"/>
<rect x="630" y="661" width="1" height="9" fill="#c0c0c0"/>
<rect x="638" y="661" width="1" height="5" fill="#c0c0c0"/>
<rect x="646" y="661" width="1" height="2" fill="#c0c0c0"/>
<rect x="654" y="661" width="1" height="2" fill="#c0c0c0"/>
<rect x="662" y="659" width="1" height="3" fill="#c0c0c0"/>
<rect x="670" y="660" width="1" height="2" fill="#c0c0c0"/>
<rect x="678" y="661" width="1" height="1" fill="#c0c0c0"/>
<rect x="686" y="661" width="1" height="2" fill="#c0c0c0"/>
<rect x="694" y="661" width="1" height="4" fill="#c0c0c0"/>
<rect x="702" y="661" width="1" height="6" fill="#c0c0c0"/>
<rect x="710" y="661" width="1" height="2" fill="#c0c0c0"/>
<rect x="718" y="661" width="1" height="1" fill="#c0c0c0"/>
<rect x="726" y="660" width="1" height="2" fill="#c0c0c0"/>
<rect x="734" y="659" width="1" height="3" fill="#c0c0c0"/>
<rect x="742" y="657" width="1" height="5" fill="#c0c0c0"/>
<rect x="750" y="654" width="1" height="8" fill="#c0c0c0"/>
<rect x="758" y="651" width="1" height="11" fill="#c0c0c0"/>
<rect x="766" y="652" width="1" height="10" fill="#c0c0c0"/>
<rect x="774" y="648" width="1" height="14" fill="#c0c0c0"/>
<rect x="782" y="642" width="1" height="20" fill="#c0c0c0"/>
<rect x="790" y="639" width="1" height="23" fill="#c0c0c0"/>
<rect x="798" y="636" width="1" height="26" fill="#c0c0c0"/>
<rect x="806" y="631" width="1" height="31" fill="#c0c0c0"/>
<rect x="814" y="628" width="1" height="34" fill="#c0c0c0"/>
<rect x="822" y="630" width="1" height="32" fill="#c0c0c0"/>
<rect x="830" y="629" width="1" height="33" fill="#c0c0c0"/>
<rect x="838" y="631" width="1" height="31" fill="#c0c0c0"/>
<rect x="846" y="632" width="1" height="30" fill="#c0c0c0"/>
<rect x="854" y="638" width="1" height="24" fill="#c0c0c0"/>
<rect x="862" y="643" width="1" height="19" fill="#c0c0c0"/>
<rect x="870" y="647" width="1" height="15" fill="#c0c0c0"/>
<rect x="878" y="655" width="1" height="7" fill="#c0c0c0"/>
<rect x="894" y="661" width="1" height="8" fill="#c0c0c0"/>
<rect x="902" y="661" width="1" height="12" fill="#c0c0c0"/>
<rect x="910" y="661" width="1" height="16" fill="#c0c0c0"/>
<rect x="918" y="661" width="1" height="18" fill="#c0c0c0"/>
<rect x="926" y="661" width="1" height="19" fill="#c0c0c0"/>
<rect x="934" y="661" width="1" height="19" fill="#c0c0c0"/>
<rect x="942" y="661" width="1" height="18" fill="#c0c0c0"/>
<rect x="950" y="661" width="1" height="14" fill="#c0c0c0"/>
<rect x="958" y="661" width="1" height="8" fill="#c0c0c0"/>
<rect x="966" y="661" width="1" height="1" fill="#c0c0c0"/>
<rect x="974" y="656" width="1" height="6" fill="#c0c0c0"/>
<rect x="982" y="652" width="1" height="10" fill="#c0c0c0"/>
<rect x="990" y="646" width="1" height="16" fill="#c0c0c0"/>
<rect x="998" y="637" width="1" height="25" fill="#c0c0c0"/>
<rect x="1006" y="627" width="1" height="35" fill="#c0c0c0"/>
<rect x="1014" y="619" width="1" height="43" fill="#c0c0c0"/>
<rect x="1022" y="615" width="1" height="47" fill="#c0c0c0"/>
<rect x="1030" y="613" width="1" height="49" fill="#c0c0c0"/>
<rect x="1038" y="608" width="1" height="54" fill="#c0c0c0"/>
<rect x="1046" y="598" width="1" height="64" fill="#c0c0c0"/>
<rect x="1054" y="592" width="1" height="70" fill="#c0c0c0"/>
<rect x="1062" y="587" width="1" height="75" fill="#c0c0c0"/>
<rect x="1070" y="585" width="1" height="77" fill="#c0c0c0"/>
<rect x="1078" y="586" width="1" height="76" fill="#c0c0c0"/>
<rect x="1086" y="586" width="1" height="76" fill="#c0c0c0"/>
<rect x="1094" y="587" width="1" height="75" fill="#c0c0c0"/>
<rect x="1102" y="590" width="1" height="72" fill="#c0c0c0"/>
<rect x="1110" y="594" width="1" height="68" fill="#c0c0c0"/>
<rect x="1118" y="597" width="1" height="65" fill="#c0c0c0"/>
<rect x="1126" y="598" width="1" height="64" fill="#c0c0c0"/>
<rect x="1134" y="600" width="1" height="62" fill="#c0c0c0"/>
<rect x="1142" y="600" width="1" height="62" fill="#c0c0c0"/>
<rect x="1150" y="597" width="1" height="65" fill="#c0c0c0"/>
<rect x="1158" y="593" width="1" height="69" fill="#c0c0c0"/>
<rect x="1166" y="592" width="1" height="70" fill="#c0c0c0"/>
<rect x="1174" y="592" width="1" height="70" fill="#c0c0c0"/>
<rect x="1182" y="593" width="1" height="69" fill="#c0c0c0"/>
<rect x="1190" y="592" width="1" height="70" fill="#c0c0c0"/>
<rect x="1198" y="596" width="1" height="66" fill="#c0c0c0"/>
<rect x="1206" y="600" width="1" height="62" fill="#c0c0c0"/>
<rect x="1214" y="603" width="1" height="59" fill="#c0c0c0"/>
<rect x="1222" y="605" width="1" height="57" fill="#c0c0c0"/>
<rect x="1230" y="608" width="1" height="54" fill="#c0c0c0"/>
<rect x="1238" y="609" width="1" height="53" fill="#c0c0c0"/>
<rect x="1246" y="606" width="1" height="56" fill="#c0c0c0"/>
<rect x="1254" y="603" width="1" height="59" fill="#c0c0c0"/>
<rect x="1262" y="602" width="1" height="60" fill="#c0c0c0"/>
<rect x="1270" y="600" width="1" height="62" fill="#c0c0c0"/>
<rect x="1278" y="601" width="1" height="61" fill="#c0c0c0"/>
<rect x="1286" y="601" width="1" height="61" fill="#c0c0c0"/>
<rect x="1294" y="600" width="1" height="62" fill="#c0c0c0"/>
<rect x="1302" y="599" width="1" height="63" fill="#c0c0c0"/>
<rect x="1310" y="600" width="1" height="62" fill="#c0c0c0"/>
<rect x="1318" y="602" width="1" height="60" fill="#c0c0c0"/>
<rect x="1326" y="604" width="1" height="58" fill="#c0c0c0"/>
<rect x="1334" y="608" width="1" height="54" fill="#c0c0c0"/>
<rect x="1342" y="605" width="1" height="57" fill="#c0c0c0"/>
<rect x="1350" y="605" width="1" height="57" fill="#c0c0c0"/>
<rect x="1358" y="606" width="1" height="56" fill="#c0c0c0"/>
<rect x="1366" y="609" width="1" height="53" fill="#c0c0c0"/>
<rect x="1374" y="611" width="1" height="51" fill="#c0c0c0"/>
<rect x="1382" y="614" width="1" height="48" fill="#c0c0c0"/>
<rect x="1390" y="621" width="1" height="41" fill="#c0c0c0"/>
<rect x="1398" y="623" width="1" height="39" fill="#c0c0c0"/>
<rect x="1406" y="624" width="1" height="38" fill="#c0c0c0"/>
<polyline points="0.5,663.2 3.0,663.0 15.5,660.5 25.5,659.2 55.5,659.2 63.0,658.0 80.5,657.0 88.0,657.0 95.5,658.0 115.5,658.8 130.5,665.5 143.0,674.5 160.5,691.2 178.0,708.0 198.0,724.2 208.0,725.5 220.5,730.0 238.0,730.5 248.0,732.0 263.0,731.5 275.5,730.0 288.0,729.0 310.5,728.2 320.5,725.0 338.0,722.5 350.5,720.0 363.0,718.2 380.5,710.8 395.5,709.2 413.0,708.8 416.5,708.8 431.5,707.5 446.5,704.5 461.5,698.8 471.5,692.0 489.0,682.5 501.5,675.8 511.5,673.0 526.5,669.5 536.5,668.8 566.5,669.5 576.5,672.5 591.5,674.2 606.5,675.8 631.5,675.8 641.5,673.8 656.5,670.5 671.5,666.8 686.5,665.0 701.5,663.2 736.5,663.0 754.0,660.8 766.5,658.0 781.5,654.5 796.5,649.5 811.5,643.8 826.5,638.2 832.5,635.8 845.0,633.2 865.0,633.0 877.5,635.8 892.5,643.2 910.0,653.8 920.0,661.2 932.5,667.5 945.0,673.8 957.5,675.5 975.0,673.2 990.0,667.5 1005.0,657.0 1017.5,646.8 1032.5,635.0 1047.5,623.2 1062.5,611.2 1072.5,603.8 1082.5,598.8 1095.0,594.5 1105.0,590.5 1120.0,589.0 1132.5,590.0 1142.5,593.0 1157.5,595.0 1182.5,595.8 1192.5,595.0 1217.5,595.0 1230.0,597.0 1232.5,598.0 1245.0,600.5 1257.5,603.0 1277.5,604.2 1290.0,603.0 1307.5,600.8 1332.5,600.8 1345.0,602.0 1362.5,603.0 1372.5,605.8 1387.5,607.5 1397.5,610.0 1403.8,612.0" fill="none" stroke="#f00" stroke-width="1" stroke-dasharray="4 3"/>
<text x="-6" y="588" font-size="9.5" fill="#000" textLength="128" lengthAdjust="spacingAndGlyphs">MACD(12,26,9) 0.3469 0.4636</text>
<text x="1653.3" y="586" font-size="9.5" fill="#000" textLength="27.5" lengthAdjust="spacingAndGlyphs">0.8032</text>
<rect x="1650" y="661" width="2" height="1" fill="#000"/>
<text x="1653.3" y="665" font-size="9.5" fill="#000" textLength="17.5" lengthAdjust="spacingAndGlyphs">0.00</text>
<text x="1653.3" y="743" font-size="9.5" fill="#000" textLength="30.5" lengthAdjust="spacingAndGlyphs">-0.7946</text>
<line x1="3" y1="783.5" x2="1649" y2="783.5" stroke="#c0c0c0" stroke-width="1" stroke-dasharray="5 3"/>
<line x1="3" y1="834.5" x2="1649" y2="834.5" stroke="#c0c0c0" stroke-width="1" stroke-dasharray="5 3"/>
<line x1="3" y1="895.5" x2="1649" y2="895.5" stroke="#c0c0c0" stroke-width="1" stroke-dasharray="5 3"/>
<polyline points="0.5,833.0 6.5,826.8 14.5,826.0 22.5,831.0 30.5,838.8 38.5,833.5 46.5,829.8 54.5,833.0 62.5,831.8 70.5,826.0 78.5,825.0 86.5,839.8 94.5,841.0 102.5,838.8 110.5,854.8 118.5,870.5 126.5,880.5 134.5,881.8 142.5,890.5 150.5,890.5 158.5,863.8 166.5,865.5 174.5,867.5 182.5,868.8 190.5,873.0 198.5,869.8 206.5,856.8 214.5,858.8 222.5,868.5 230.5,868.8 238.5,876.8 246.5,875.5 254.5,862.5 262.5,852.2 270.5,851.0 278.5,851.0 286.5,862.5 294.5,871.8 302.5,867.5 310.5,855.0 318.5,851.8 326.5,849.8 334.5,853.8 342.5,848.8 350.5,853.0 358.5,850.5 366.5,846.0 374.5,849.2 382.5,863.0 390.5,873.0 398.5,855.5 406.5,856.8 414.5,852.2 422.5,838.0 430.5,841.0 438.5,835.0 446.5,833.8 454.5,826.8 462.5,824.8 470.5,835.5 478.5,837.2 486.5,837.2 494.5,839.2 502.5,836.0 510.5,843.0 518.5,841.8 526.5,833.8 534.5,836.0 542.5,843.8 550.5,845.0 558.5,853.0 566.5,856.0 574.5,851.0 582.5,847.5 590.5,843.0 598.5,836.8 606.5,840.0 614.5,838.0 622.5,841.8 630.5,829.2 638.5,826.0 646.5,826.8 654.5,834.8 662.5,820.5 670.5,836.0 678.5,841.8 686.5,841.8 694.5,848.0 702.5,838.8 710.5,828.0 718.5,826.8 726.5,831.0 734.5,828.0 742.5,826.0 750.5,821.8 758.5,813.8 766.5,833.0 774.5,819.2 782.5,809.8 790.5,813.8 798.5,811.8 806.5,808.0 814.5,806.8 822.5,823.0 830.5,817.2 838.5,823.8 846.5,823.0 854.5,837.5 862.5,839.8 870.5,840.5 878.5,853.5 886.5,854.8 894.5,858.8 902.5,851.8 910.5,855.5 918.5,848.8 926.5,848.8 934.5,847.5 942.5,843.5 950.5,831.2 958.5,820.5 966.5,811.8 974.5,816.0 982.5,814.8 990.5,809.2 998.5,799.2 1006.5,791.8 1014.5,791.8 1022.5,798.5 1030.5,799.8 1038.5,793.0 1046.5,783.8 1054.5,788.5 1062.5,786.8 1070.5,793.8 1078.5,798.8 1086.5,797.5 1094.5,796.8 1102.5,803.5 1110.5,806.8 1118.5,805.5 1126.5,801.0 1134.5,799.2 1142.5,796.8 1150.5,788.8 1158.5,784.8 1166.5,791.8 1174.5,791.8 1182.5,794.8 1190.5,790.0 1198.5,810.5 1206.5,808.8 1214.5,807.5 1222.5,806.0 1230.5,806.8 1238.5,802.5 1246.5,791.0 1254.5,789.8 1262.5,788.8 1270.5,788.8 1278.5,793.0 1286.5,789.8 1294.5,786.0 1302.5,786.8 1310.5,794.8 1318.5,793.5 1326.5,789.8 1334.5,811.8 1342.5,795.0 1350.5,803.8 1358.5,805.5 1366.5,809.2 1374.5,806.2 1382.5,819.2 1390.5,834.2 1398.5,821.2 1406.5,821.8" fill="none" stroke="#1e90ff" stroke-width="1"/>
<text x="-6.5" y="760" font-size="9.5" fill="#000" textLength="68" lengthAdjust="spacingAndGlyphs">RSI(14) 58.0884</text>
<text x="1653.3" y="758" font-size="9.5" fill="#000" textLength="14.5" lengthAdjust="spacingAndGlyphs">100</text>
<text x="1652.3" y="787" font-size="9.5" fill="#000" textLength="10" lengthAdjust="spacingAndGlyphs">80</text>
<text x="1652.3" y="838" font-size="9.5" fill="#000" textLength="10" lengthAdjust="spacingAndGlyphs">50</text>
<text x="1652.3" y="899" font-size="9.5" fill="#000" textLength="10" lengthAdjust="spacingAndGlyphs">15</text>
<text x="1653.3" y="918" font-size="9.5" fill="#000">0</text>
<g shape-rendering="geometricPrecision">
<line x1="1187" y1="192" x2="1351.3" y2="56.4" stroke="#f00" stroke-width="3.1"/>
<polygon points="1359.0,50.0 1352.9,61.5 1346.6,53.8" fill="#f00"/>
<line x1="1357" y1="51" x2="1403.1" y2="99.7" stroke="#f00" stroke-width="3.1"/>
<polygon points="1410.0,107.0 1398.1,101.7 1405.4,94.8" fill="#f00"/>
<line x1="1336.5" y1="589" x2="1403.0" y2="620.2" stroke="#f00" stroke-width="3.0"/>
<polygon points="1412.0,624.5 1399.1,623.7 1403.2,615.1" fill="#f00"/>
<line x1="1333" y1="792" x2="1405.0" y2="826.7" stroke="#f00" stroke-width="3.0"/>
<polygon points="1414.0,831.0 1401.1,830.1 1405.3,821.5" fill="#f00"/>
</g>
<rect x="0" y="20" width="1650" height="1" fill="#000"/>
<rect x="1649" y="20" width="1" height="902" fill="#000"/>
<rect x="0" y="573" width="1650" height="1" fill="#000"/>
<rect x="0" y="575" width="1650" height="1" fill="#000"/>
<rect x="0" y="745" width="1650" height="1" fill="#000"/>
<rect x="0" y="748" width="1650" height="1" fill="#000"/>
<rect x="0" y="921" width="1650" height="1" fill="#000"/>
<rect x="0" y="574" width="1651" height="1" fill="#fff"/>
<rect x="0" y="746" width="1651" height="2" fill="#fff"/>
<rect x="1650" y="573" width="1" height="1" fill="#000"/>
<rect x="1650" y="575" width="1" height="1" fill="#000"/>
<rect x="1650" y="745" width="1" height="1" fill="#000"/>
<rect x="1650" y="748" width="1" height="1" fill="#000"/>
<rect x="1650" y="921" width="1" height="1" fill="#000"/>
<rect x="-10" y="922" width="1" height="3" fill="#000"/>
<text x="-11.2" y="934" font-size="9.5" fill="#000">22 Nov 2021</text>
<rect x="54" y="922" width="1" height="3" fill="#000"/>
<text x="52.8" y="934" font-size="9.5" fill="#000">24 Nov 16:00</text>
<rect x="118" y="922" width="1" height="3" fill="#000"/>
<text x="116.8" y="934" font-size="9.5" fill="#000">26 Nov 00:00</text>
<rect x="182" y="922" width="1" height="3" fill="#000"/>
<text x="180.8" y="934" font-size="9.5" fill="#000">29 Nov 08:00</text>
<rect x="246" y="922" width="1" height="3" fill="#000"/>
<text x="244.8" y="934" font-size="9.5" fill="#000">30 Nov 16:00</text>
<rect x="310" y="922" width="1" height="3" fill="#000"/>
<text x="308.8" y="934" font-size="9.5" fill="#000">2 Dec 00:00</text>
<rect x="374" y="922" width="1" height="3" fill="#000"/>
<text x="372.8" y="934" font-size="9.5" fill="#000">3 Dec 08:00</text>
<rect x="438" y="922" width="1" height="3" fill="#000"/>
<text x="436.8" y="934" font-size="9.5" fill="#000">6 Dec 16:00</text>
<rect x="502" y="922" width="1" height="3" fill="#000"/>
<text x="500.8" y="934" font-size="9.5" fill="#000">8 Dec 00:00</text>
<rect x="566" y="922" width="1" height="3" fill="#000"/>
<text x="564.8" y="934" font-size="9.5" fill="#000">9 Dec 08:00</text>
<rect x="630" y="922" width="1" height="3" fill="#000"/>
<text x="628.8" y="934" font-size="9.5" fill="#000">10 Dec 16:00</text>
<rect x="694" y="922" width="1" height="3" fill="#000"/>
<text x="692.8" y="934" font-size="9.5" fill="#000">14 Dec 00:00</text>
<rect x="758" y="922" width="1" height="3" fill="#000"/>
<text x="756.8" y="934" font-size="9.5" fill="#000">15 Dec 08:00</text>
<rect x="822" y="922" width="1" height="3" fill="#000"/>
<text x="820.8" y="934" font-size="9.5" fill="#000">16 Dec 16:00</text>
<rect x="886" y="922" width="1" height="3" fill="#000"/>
<text x="884.8" y="934" font-size="9.5" fill="#000">20 Dec 00:00</text>
<rect x="950" y="922" width="1" height="3" fill="#000"/>
<text x="948.8" y="934" font-size="9.5" fill="#000">21 Dec 08:00</text>
<rect x="1014" y="922" width="1" height="3" fill="#000"/>
<text x="1012.8" y="934" font-size="9.5" fill="#000">22 Dec 16:00</text>
<rect x="1078" y="922" width="1" height="3" fill="#000"/>
<text x="1076.8" y="934" font-size="9.5" fill="#000">24 Dec 00:00</text>
<rect x="1142" y="922" width="1" height="3" fill="#000"/>
<text x="1140.8" y="934" font-size="9.5" fill="#000">27 Dec 08:00</text>
<rect x="1206" y="922" width="1" height="3" fill="#000"/>
<text x="1204.8" y="934" font-size="9.5" fill="#000">28 Dec 16:00</text>
<rect x="1270" y="922" width="1" height="3" fill="#000"/>
<text x="1268.8" y="934" font-size="9.5" fill="#000">30 Dec 00:00</text>
<rect x="1334" y="922" width="1" height="3" fill="#000"/>
<text x="1332.8" y="934" font-size="9.5" fill="#000">31 Dec 08:00</text>
<rect x="1398" y="922" width="1" height="3" fill="#000"/>
<text x="1396.8" y="934" font-size="9.5" fill="#000">3 Jan 16:00</text>
<rect x="1695" y="17" width="1" height="925" fill="#dcdcdc"/>
<defs>
<linearGradient id="gbtn" x1="0" y1="0" x2="0" y2="1"><stop offset="0" stop-color="#5555f8"/><stop offset="1" stop-color="#3838d8"/></linearGradient>
<linearGradient id="gprice" x1="0" y1="0" x2="0" y2="1"><stop offset="0" stop-color="#3232da"/><stop offset="0.55" stop-color="#1212bc"/><stop offset="1" stop-color="#0000a4"/></linearGradient>
<linearGradient id="gspin" x1="0" y1="0" x2="0" y2="1"><stop offset="0" stop-color="#f4f4f4"/><stop offset="0.45" stop-color="#e6e6e6"/><stop offset="0.5" stop-color="#d8d8d8"/><stop offset="1" stop-color="#cccccc"/></linearGradient>
</defs>
<g id="panel">
<rect x="0" y="40" width="213" height="57" fill="#fff"/>
<rect x="0" y="40" width="45" height="24" fill="url(#gbtn)"/>
<rect x="160" y="40" width="52" height="24" fill="url(#gbtn)"/>
<rect x="0" y="40" width="45" height="1" fill="#1c1cc4"/><rect x="160" y="40" width="52" height="1" fill="#1c1cc4"/>
<rect x="44" y="40" width="1" height="24" fill="#0808b0"/><rect x="160" y="40" width="1" height="24" fill="#0808b0"/>
<rect x="0" y="64" width="102" height="33" fill="url(#gprice)"/>
<rect x="104" y="64" width="108" height="33" fill="url(#gprice)"/>
<rect x="101" y="64" width="1" height="33" fill="#0000a0"/><rect x="211" y="40" width="1" height="57" fill="#0000a0"/>
<rect x="0" y="63" width="41" height="1" fill="#0a0aa4"/><rect x="0" y="64" width="41" height="1" fill="#6464f2"/>
<rect x="164" y="63" width="44" height="1" fill="#0a0aa4"/><rect x="164" y="64" width="44" height="1" fill="#6464f2"/>
<rect x="45" y="40" width="115" height="24" fill="#fff"/>
<rect x="47.5" y="40.5" width="110" height="21" fill="#fff" stroke="#a4a4a4" stroke-width="1"/>
<rect x="48" y="41" width="20" height="20" fill="url(#gspin)"/>
<rect x="137" y="41" width="20" height="20" fill="url(#gspin)"/>
<rect x="68" y="41" width="1" height="20" fill="#a8a8a8"/><rect x="136" y="41" width="1" height="20" fill="#a8a8a8"/>
<polygon points="55,49 60.4,49 57.7,52.3" fill="#4a5fc0" shape-rendering="geometricPrecision"/>
<polygon points="143.8,52.3 149.2,52.3 146.5,49" fill="#4a5fc0" shape-rendering="geometricPrecision"/>
<text x="132.5" y="55" font-size="11.5" fill="#000" text-anchor="end">1.00</text>
<text x="5.3" y="55.9" font-size="12.9" fill="#fff" textLength="25.6" lengthAdjust="spacingAndGlyphs">SELL</text>
<text x="173.3" y="55.9" font-size="12.9" fill="#fff" textLength="24.8" lengthAdjust="spacingAndGlyphs">BUY</text>
<text x="16.4" y="92" font-size="12.4" font-weight="bold" fill="#fff" textLength="20.6" lengthAdjust="spacingAndGlyphs">155</text>
<text x="39.2" y="91.8" font-size="34.3" fill="#fff" textLength="35.6" lengthAdjust="spacingAndGlyphs">47</text>
<text x="79.8" y="75.6" font-size="12.6" font-weight="bold" fill="#fff">7</text>
<text x="126.2" y="92" font-size="12.4" font-weight="bold" fill="#fff" textLength="20.6" lengthAdjust="spacingAndGlyphs">155</text>
<text x="151.8" y="91.8" font-size="34.3" fill="#fff" textLength="34.2" lengthAdjust="spacingAndGlyphs">52</text>
<text x="191.3" y="75.6" font-size="12.6" font-weight="bold" fill="#fff">2</text>
</g>

<defs>
<linearGradient id="ggold" x1="0" y1="0" x2="1" y2="1"><stop offset="0" stop-color="#ffe27a"/><stop offset="1" stop-color="#c88a10"/></linearGradient>
<linearGradient id="ggreen" x1="0" y1="0" x2="0" y2="1"><stop offset="0" stop-color="#5cf05c"/><stop offset="1" stop-color="#0aa00a"/></linearGradient>
<radialGradient id="gredb" cx="0.4" cy="0.3" r="0.8"><stop offset="0" stop-color="#e8502c"/><stop offset="1" stop-color="#c8281c"/></radialGradient>
</defs>
<g id="toolbar">
<rect x="0" y="0" width="1696" height="15" fill="#f0f0f0"/>
<rect x="0" y="15" width="1696" height="1" fill="#f4f4f4"/>
<rect x="0" y="16" width="1696" height="1" fill="#a0a0a0"/>
<rect x="0" y="17" width="1696" height="1" fill="#696969"/>
<rect x="0" y="18" width="1696" height="2" fill="#fff"/>
<g shape-rendering="geometricPrecision">
<!-- arrow fragment -->
<polygon points="0,9 2.5,11 2,13.5 0,12" fill="#e0a020"/>
<!-- new order: doc + plus -->
<path d="M20.5,0 V9 H31.5 V0" fill="#fff" stroke="#909090" stroke-width="1"/>
<path d="M22.5,2.5 H29 M22.5,4.5 H27 M22.5,6.5 H25" stroke="#a0a0a0" stroke-width="1" fill="none"/>
<path d="M28.2,2.8 h3.6 v3.6 h4 v3.4 h-4 v3.9 h-3.6 v-3.9 h-4 v-3.4 h4 z" fill="url(#ggreen)" stroke="#0a8a0a" stroke-width="0.8"/>
<polygon points="35.3,3 36.6,4.3 35.3,5.6 34,4.3" fill="#fff" stroke="#222" stroke-width="0.7"/>
<!-- CJK: 新订单 (lower halves) -->
<g stroke="#101010" stroke-width="1.25" fill="none">
<path d="M39.5,1.5 H45.5 M42.5,0 V7.5 M42,3 L39.5,6.5 M43,3.5 L45,6"/>
<path d="M46.5,0 V3 Q46.5,6 45.5,7.5 M46.5,3.5 H51.5 M49.5,3.5 V7.8"/>
<path d="M53,1.5 H54.5 V6.5 L56,5.5 M56.5,0 H61 M59.5,0 V7 Q59.5,7.8 57.5,7.5"/>
<path d="M65.5,0 V3.5 H73.5 V0 M65.5,1.5 H73.5 M63,5.5 H75.5 M69.5,0 V8"/>
</g>
<!-- gold book -->
<polygon points="95,0 103,4.5 97,12.5 87,6.5" fill="url(#ggold)" stroke="#a87008" stroke-width="0.8"/>
<path d="M89,7.5 L98,12.8" stroke="#7a5206" stroke-width="1.2"/>
<!-- cloud/market -->
<rect x="118.5" y="0" width="9" height="5" fill="#3a8ae0" stroke="#1c5cb0" stroke-width="0.8"/>
<path d="M116,9.5 a3,3 0 0 1 3,-3.5 a4,4 0 0 1 7.5,-0.5 a3,3 0 0 1 4,3.5 a2.5,2.5 0 0 1 -2,3 h-10.5 a2.5,2.5 0 0 1 -2,-2.5z" fill="#e4eefc" stroke="#7ea4d8" stroke-width="0.9"/>
<!-- signals -->
<path d="M147.8,-3 a7,7 0 0 0 0,11" stroke="#5c8cdc" stroke-width="1.2" fill="none"/>
<path d="M149.6,-0.5 a4,4 0 0 0 0,6.5" stroke="#5c8cdc" stroke-width="1.2" fill="none"/>
<path d="M153.4,-0.5 a4,4 0 0 1 0,6.5" stroke="#58a868" stroke-width="1.3" fill="none"/>
<path d="M155.2,-3 a7,7 0 0 1 0,11" stroke="#58a868" stroke-width="1.6" fill="none"/>
<path d="M151.5,3 V12.5" stroke="#2e9e3e" stroke-width="1.8" fill="none"/>
<path d="M152,12 a9,9 0 0 0 6,-5" stroke="#7ab08a" stroke-width="1.4" fill="none"/>
<circle cx="151.5" cy="3" r="1.7" fill="#2c6cd0"/>
<!-- autotrading -->
<path d="M171,0 h14 l-2,5 l-5,6 l-5,-5z" fill="#f0c84c" stroke="#c89a20" stroke-width="0.8"/>
<ellipse cx="178" cy="0.8" rx="6.5" ry="1.8" fill="#5aa0e4"/>
<circle cx="182.5" cy="8" r="4" fill="#e02818" stroke="#a81408" stroke-width="0.6"/>
<rect x="180.8" y="6.3" width="3.4" height="3.4" fill="#fff"/>
<!-- CJK: 自动交易 (lower halves) -->
<g stroke="#101010" stroke-width="1.25" fill="none">
<path d="M193.5,0 V7.5 H201.5 V0 M193.5,2 H201.5 M193.5,4.8 H201.5"/>
<path d="M204,1.5 H209 M206.5,1.5 L204.5,6.5 H208.5 L207.5,4 M210,1.5 H214.5 V6.5 Q214.5,7.8 212.5,7.3 M212,0 V3 Q212,6 210,7.8"/>
<path d="M217,0.5 L219.5,2.5 M226,0.5 L223.5,2.5 M218.5,2.5 L225.5,7.8 M225,2.5 Q222,6.5 217,7.8"/>
<path d="M230,0 H238 M230,2 H238 M230,0 V2 M238,0 V2 M231,3.5 L229,5.5 M231,3.8 H238.5 Q238.5,7.5 236,7.8 M233.5,4 L231.5,7.5 M236,4 L234,7.5"/>
</g>
</g>
<!-- separators & grips -->
<rect x="10" y="0" width="1" height="14" fill="#a0a0a0"/><rect x="11" y="0" width="1" height="14" fill="#fff"/>
<rect x="246" y="0" width="1" height="16" fill="#a0a0a0"/><rect x="247" y="0" width="1" height="15" fill="#fff"/>
<g fill="#989898"><rect x="250" y="0" width="3" height="1"/><rect x="250" y="2" width="3" height="1"/><rect x="250" y="4" width="3" height="1"/><rect x="250" y="6" width="3" height="1"/><rect x="250" y="8" width="3" height="1"/><rect x="250" y="10" width="3" height="1"/><rect x="250" y="12" width="3" height="1"/></g>
<!-- chart type icons -->
<rect x="285" y="0" width="24" height="14" fill="#fafafa"/>
<g fill="#555">
<rect x="264" y="0" width="1" height="12"/><rect x="262" y="9" width="13" height="1"/>
<rect x="292" y="0" width="1" height="12"/><rect x="290" y="9" width="13" height="1"/>
<rect x="320" y="0" width="1" height="12"/><rect x="318" y="9" width="13" height="1"/>
</g>
<g shape-rendering="geometricPrecision">
<polygon points="274,8 276.5,9.5 274,11" fill="#555"/><polygon points="302,8 304.5,9.5 302,11" fill="#555"/><polygon points="330,8 332.5,9.5 330,11" fill="#555"/>
<path d="M268,6.5 H270.5 V0.5 H273" stroke="#1a9a2a" stroke-width="1.4" fill="none"/>
<rect x="295.8" y="0" width="5" height="5.6" fill="#28c038" stroke="#108a20" stroke-width="0.8"/><path d="M298.3,5.6 V8" stroke="#108a20" stroke-width="1"/>
<path d="M319.5,6.5 Q324,-2 330,5.5" stroke="#1a9a2a" stroke-width="1.3" fill="none"/>
</g>
<rect x="284" y="0" width="1" height="14" fill="#a0a0a0"/>
<rect x="341" y="0" width="1" height="14" fill="#a0a0a0"/><rect x="342" y="0" width="1" height="14" fill="#fff"/>
<!-- zoom icons -->
<g shape-rendering="geometricPrecision">
<path d="M359.5,5.5 L365,11" stroke="#d8a020" stroke-width="2.4" stroke-linecap="round"/>
<circle cx="356" cy="1.5" r="5" fill="#d8e8fc" stroke="#3a78d0" stroke-width="1.2"/>
<path d="M353.5,1.5 H358.5 M356,0 V4" stroke="#2a60c0" stroke-width="1.3"/>
<path d="M388,5.5 L393.5,11" stroke="#d8a020" stroke-width="2.4" stroke-linecap="round"/>
<circle cx="384.5" cy="1.5" r="5" fill="#d8e8fc" stroke="#3a78d0" stroke-width="1.2"/>
<path d="M382,1.5 H387" stroke="#2a60c0" stroke-width="1.3"/>
</g>
<!-- tile windows -->
<rect x="406" y="0" width="7.5" height="3.5" fill="#3cb040"/><rect x="414.5" y="0" width="7.5" height="3.5" fill="#3a6ae0"/>
<rect x="406" y="4.5" width="7.5" height="7" fill="#3a6ae0"/><rect x="414.5" y="4.5" width="7.5" height="7" fill="#3cb040"/>
<rect x="407.5" y="7.5" width="4.5" height="2" fill="#e8f0ff"/><rect x="416" y="7.5" width="4.5" height="2" fill="#e8ffe8"/>
<rect x="431" y="0" width="1" height="14" fill="#a0a0a0"/><rect x="432" y="0" width="1" height="14" fill="#fff"/>
<!-- autoscroll / shift -->
<rect x="436" y="0" width="25" height="14" fill="#fafafa"/><rect x="464" y="0" width="25" height="14" fill="#fafafa"/>
<rect x="436" y="0" width="1" height="14" fill="#b0b0b0"/><rect x="463" y="0" width="1" height="14" fill="#b0b0b0"/>
<g fill="#555"><rect x="444" y="0" width="1" height="12"/><rect x="442" y="9" width="13" height="1"/><rect x="472" y="0" width="1" height="12"/><rect x="470" y="9" width="13" height="1"/></g>
<g shape-rendering="geometricPrecision">
<polygon points="454,8 456.5,9.5 454,11" fill="#555"/><polygon points="482,8 484.5,9.5 482,11" fill="#555"/>
<polygon points="449.5,0.5 453.5,3.3 449.5,6.2" fill="#38c048" stroke="#128a22" stroke-width="0.7"/>
<path d="M478.5,0 V9" stroke="#3070c8" stroke-width="1.2"/>
<path d="M479.5,3.5 H484 M479.5,3.5 L482,1.5 M479.5,3.5 L482,5.5" stroke="#d04010" stroke-width="1.1" fill="none"/>
</g>
<rect x="493" y="0" width="1" height="14" fill="#a0a0a0"/><rect x="494" y="0" width="1" height="14" fill="#fff"/>
<!-- new indicator -->
<g shape-rendering="geometricPrecision">
<path d="M504.5,0 V9 H511.5 V0" fill="#fff" stroke="#909090" stroke-width="1"/>
<path d="M511.2,2 h3.6 v3.8 h4 v3.4 h-4 v3.9 h-3.6 v-3.9 h-4 v-3.4 h4 z" fill="url(#ggreen)" stroke="#0a8a0a" stroke-width="0.8"/>
<polygon points="525,3 530,3 527.5,5.8" fill="#000"/>
<circle cx="549" cy="3.7" r="7" fill="#f4f8ff" stroke="#2a64d0" stroke-width="2.2"/>
<path d="M549,0 V4 H552.5" stroke="#808080" stroke-width="1" fill="none"/>
<polygon points="564,3 569,3 566.5,5.8" fill="#000"/>
<rect x="580.5" y="-1" width="15" height="11.5" fill="#fff" stroke="#3a78c8" stroke-width="1.2"/>
<path d="M580.5,4.8 H595.5" stroke="#3a78c8" stroke-width="0.8"/>
<path d="M582.5,3 L585,2 L587.5,2.5 L590,1 L593.5,1.5" stroke="#b03020" stroke-width="1" fill="none"/>
<path d="M582.5,8.5 L585,7 L587.5,8 L590,6.5 L593.5,8" stroke="#20a030" stroke-width="1" fill="none"/>
<polygon points="603,3 608,3 605.5,5.8" fill="#000"/>
</g>
<rect x="614" y="0" width="1" height="16" fill="#a0a0a0"/><rect x="615" y="0" width="1" height="15" fill="#fff"/>
<g fill="#989898"><rect x="618" y="0" width="3" height="1"/><rect x="618" y="2" width="3" height="1"/><rect x="618" y="4" width="3" height="1"/><rect x="618" y="6" width="3" height="1"/><rect x="618" y="8" width="3" height="1"/><rect x="618" y="10" width="3" height="1"/><rect x="618" y="12" width="3" height="1"/></g>
<rect x="624" y="0" width="1" height="14" fill="#a0a0a0"/>
<rect x="625" y="0" width="24" height="14" fill="#fafafa"/>
<g shape-rendering="geometricPrecision">
<polygon points="632,0 632,8.3 634.3,6.3 636.3,10.6 638,9.8 636,5.8 639.5,5.8 633.5,0" fill="#505050"/>
</g>
<g fill="#555"><rect x="664" y="0" width="1" height="12"/><rect x="657" y="4" width="6" height="1"/><rect x="666" y="4" width="6" height="1"/>
<rect x="698" y="0" width="1" height="11"/><rect x="721" y="4" width="12" height="1"/></g>
<rect x="681" y="0" width="1" height="14" fill="#a0a0a0"/>
<g shape-rendering="geometricPrecision" stroke="#555" fill="none">
<path d="M749,10.5 L760,0" stroke-width="1"/>
<path d="M775,9 L786,0 M778,11 L789,2 M777,4 L781,11 M780,2 L784,9 M783,0 L787,7" stroke-width="0.9"/>
</g>
<g fill="#777"><rect x="804" y="0" width="2" height="1"/><rect x="807" y="0" width="2" height="1"/><rect x="810" y="0" width="2" height="1"/><rect x="813" y="0" width="2" height="1"/><rect x="816" y="0" width="1" height="1"/>
<rect x="804" y="4" width="2" height="1"/><rect x="807" y="4" width="2" height="1"/><rect x="810" y="4" width="2" height="1"/><rect x="813" y="4" width="2" height="1"/><rect x="816" y="4" width="1" height="1"/>
<rect x="804" y="8" width="2" height="1"/><rect x="807" y="8" width="2" height="1"/><rect x="810" y="8" width="2" height="1"/></g>
<text x="785.5" y="12.5" font-size="5.5" font-weight="bold" fill="#333">E</text>
<text x="814" y="12.5" font-size="5.5" font-weight="bold" fill="#333">F</text>
<text x="834.3" y="8.8" font-size="13" fill="#606060">A</text>
<rect x="861.5" y="-1" width="11" height="12" fill="none" stroke="#666" stroke-width="1" stroke-dasharray="1 1"/>
<text x="863.2" y="8.8" font-size="11" font-weight="bold" fill="#505050">T</text>
<g shape-rendering="geometricPrecision">
<polygon points="891,0 894,0 892.5,1.8" fill="#444"/>
<path d="M890.5,3 L893.5,6 L897,1.5" stroke="#444" stroke-width="1.3" fill="none"/>
<polygon points="899,4.5 902,7 899,9.5 896,7" fill="#444"/>
<polygon points="909,3 914,3 911.5,5.8" fill="#000"/>
</g>
<rect x="920" y="0" width="1" height="16" fill="#a0a0a0"/><rect x="921" y="0" width="1" height="15" fill="#fff"/>
<g fill="#989898"><rect x="924" y="0" width="3" height="1"/><rect x="924" y="2" width="3" height="1"/><rect x="924" y="4" width="3" height="1"/><rect x="924" y="6" width="3" height="1"/><rect x="924" y="8" width="3" height="1"/><rect x="924" y="10" width="3" height="1"/><rect x="924" y="12" width="3" height="1"/></g>
<!-- timeframes -->
<rect x="1070" y="0" width="1" height="14" fill="#a0a0a0"/>
<rect x="1071" y="0" width="25" height="14" fill="#fafafa"/>
<g font-size="9.5" fill="#404040">
<text x="935.5" y="8" textLength="13" lengthAdjust="spacingAndGlyphs">M1</text>
<text x="963.5" y="8" textLength="12.5" lengthAdjust="spacingAndGlyphs">M5</text>
<text x="990" y="8" textLength="17" lengthAdjust="spacingAndGlyphs">M15</text>
<text x="1018" y="8" textLength="17" lengthAdjust="spacingAndGlyphs">M30</text>
<text x="1049" y="8" textLength="11.5" lengthAdjust="spacingAndGlyphs">H1</text>
<text x="1076" y="8" textLength="12" lengthAdjust="spacingAndGlyphs">H4</text>
<text x="1105" y="8" textLength="11.5" lengthAdjust="spacingAndGlyphs">D1</text>
<text x="1132" y="8" textLength="14" lengthAdjust="spacingAndGlyphs">W1</text>
<text x="1159" y="8" textLength="14" lengthAdjust="spacingAndGlyphs">MN</text>
</g>
<rect x="1181" y="0" width="1" height="14" fill="#a0a0a0"/><rect x="1182" y="0" width="1" height="14" fill="#fff"/>
<!-- search + chat -->
<g shape-rendering="geometricPrecision">
<path d="M1648.5,4.5 L1644.3,8.5" stroke="#2a5cd0" stroke-width="2.2" stroke-linecap="round"/>
<circle cx="1651.5" cy="1.5" r="4.3" fill="#f4f6ff" stroke="#3a68d8" stroke-width="1.2"/>
<path d="M1668.5,6 a5.5,4.8 0 0 1 5.5,-4.6 h4 v9 h-3 l-3.3,2.3 l0.4,-2.5 a5,4.6 0 0 1 -3.6,-4.2z" fill="#e4e6f2" stroke="#a8a8a8" stroke-width="0.8"/>
<circle cx="1682.3" cy="1.5" r="8.2" fill="url(#gredb)"/>
<path d="M1679.7,5.3 H1684.7 M1682.3,5.3 V-2" stroke="#fff" stroke-width="1.3" fill="none"/>
</g>
<rect x="1695" y="16" width="1" height="926" fill="#dcdcdc"/>
</g>

</svg>
</body></html>
